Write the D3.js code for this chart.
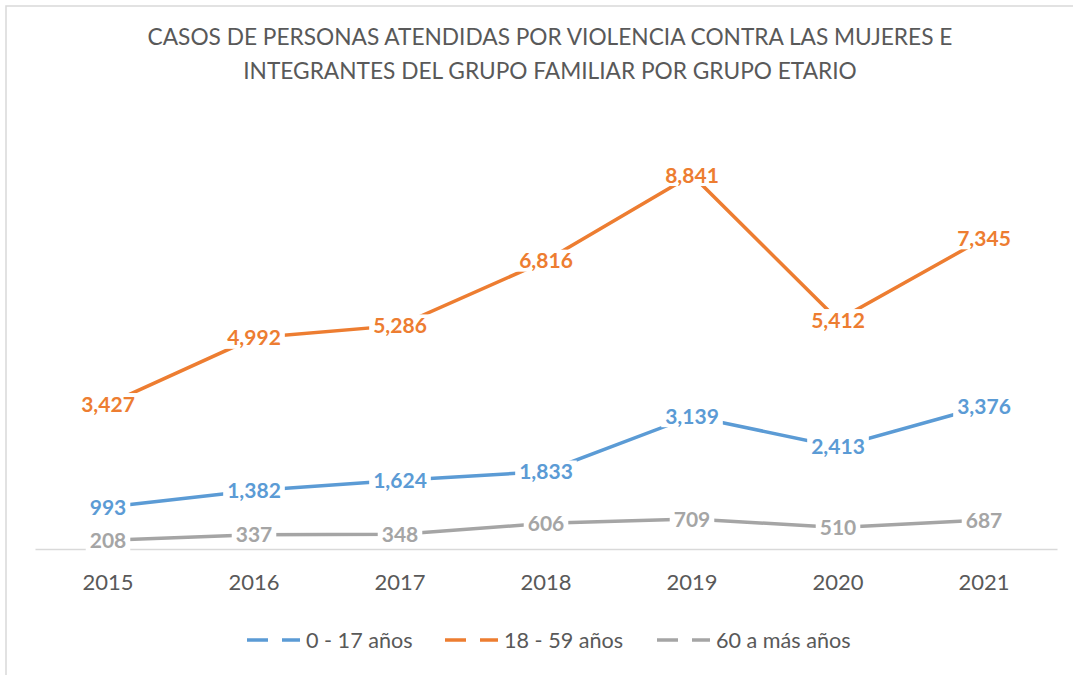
<!DOCTYPE html>
<html>
<head>
<meta charset="utf-8">
<script src="https://cdn.jsdelivr.net/npm/d3@7"></script>
<style>
  body{margin:0;background:#fff;}
  text{font-family:Lato,"Open Sans",sans-serif;}
</style>
</head>
<body>
<script>
var years=["2015","2016","2017","2018","2019","2020","2021"]
var menores=[993,1382,1624,1833,3139,2413,3376]
var adultos=[3427,4992,5286,6816,8841,5412,7345]
var mayores=[208,337,348,606,709,510,687]
var seriesNames=["0 - 17 años","18 - 59 años","60 a más años"]
var seriesColors=["#5B9BD5","#ED7D31","#A5A5A5"]
var titleLines=["CASOS DE PERSONAS ATENDIDAS POR VIOLENCIA CONTRA LAS MUJERES E","INTEGRANTES DEL GRUPO FAMILIAR POR GRUPO ETARIO"]

var drawChart=function()
{
  var screen={width:1073,height:675}
  var svg=d3.select("body").append("svg")
            .attr("width",screen.width)
            .attr("height",screen.height)
  // chart frame (only top and left visible)
  svg.append("rect")
     .attr("x",6).attr("y",6)
     .attr("width",1200).attr("height",800)
     .attr("fill","#fff")
     .attr("stroke","#d9d9d9")
     .attr("stroke-width",1.5)

  svg.selectAll(".title")
     .data(titleLines)
     .enter()
     .append("text")
     .classed("title",true)
     .attr("x",550)
     .attr("y",function(d,i){return 45+i*34;})
     .attr("text-anchor","middle")
     .attr("font-size",22.7)
     .attr("fill","#595959")
     .text(function(d){return d;})

  var xScale=d3.scaleBand()
               .domain(years)
               .range([35,1057])
  var yScale=d3.scaleLinear()
               .domain([0,10000])
               .range([549,126])
  var xc=function(d){return xScale(d)+xScale.bandwidth()/2;}

  // category axis
  var xAxis=svg.append("g")
               .attr("transform","translate(0,549)")
               .call(d3.axisBottom(xScale).tickSize(0).tickPadding(25))
  xAxis.select(".domain").attr("stroke","#d9d9d9").attr("stroke-width",1.5)
  xAxis.selectAll("text")
       .attr("font-size",22)
       .attr("fill","#595959")
       .style("font-family","Lato")

  var series=[menores,adultos,mayores]
  var line=d3.line()
             .x(function(d,i){return xc(years[i]);})
             .y(function(d){return yScale(d);})
  var plot=svg.append("g")
  series.forEach(function(s,k){
    plot.append("path")
        .datum(s)
        .attr("d",line)
        .attr("fill","none")
        .attr("stroke",seriesColors[k])
        .attr("stroke-width",3.5)
  })

  series.forEach(function(s,k){
    var labels=svg.append("g")
    var g=labels.selectAll("g")
                .data(s)
                .enter()
                .append("g")
                .attr("transform",function(d,i){return "translate("+xc(years[i])+","+yScale(d)+")";})
    var txt=g.append("text")
             .attr("text-anchor","middle")
             .attr("dy","0.36em")
             .attr("font-size",21)
             .attr("font-weight","bold")
             .attr("fill",seriesColors[k])
             .text(function(d){return d3.format(",")(d);})
    g.insert("rect","text")
     .attr("fill","#fff")
     .each(function(){
        var bb=this.parentNode.querySelector("text").getBBox()
        d3.select(this).attr("x",bb.x-4).attr("y",-11).attr("width",bb.width+8).attr("height",22)
     })
  })

  // legend
  var legendX=[247,445,657]
  var legend=svg.selectAll(".legend")
                .data(seriesNames)
                .enter()
                .append("g")
                .classed("legend",true)
                .attr("transform",function(d,i){return "translate("+legendX[i]+",640)";})
  legend.append("line")
        .attr("x1",0).attr("x2",53)
        .attr("stroke",function(d,i){return seriesColors[i];})
        .attr("stroke-width",3.5)
        .attr("stroke-dasharray","21,14,18")
  legend.append("text")
        .attr("x",59)
        .attr("dy","0.36em")
        .attr("font-size",21.6)
        .attr("fill","#595959")
        .text(function(d){return d;})
}
drawChart()
</script>
</body>
</html>
